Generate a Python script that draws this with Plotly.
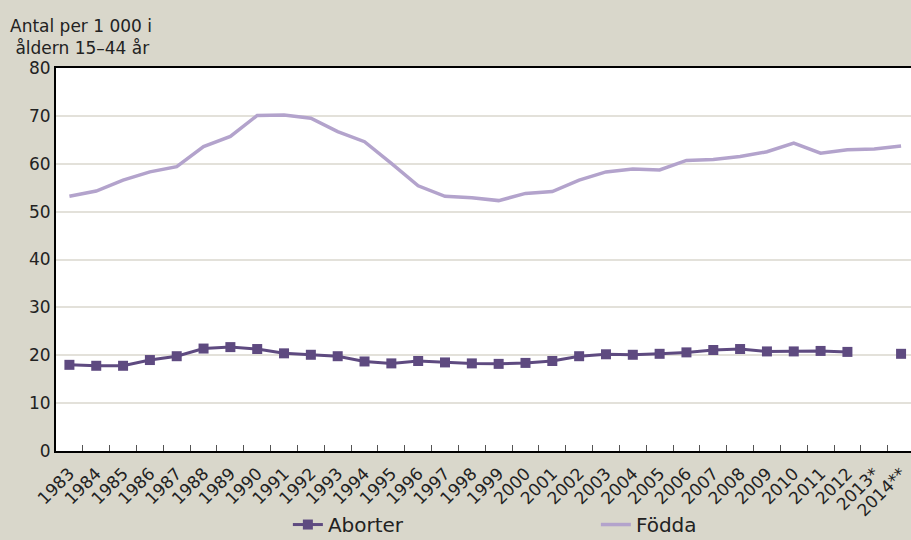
import plotly.graph_objects as go

years = ["1983", "1984", "1985", "1986", "1987", "1988", "1989", "1990", "1991", "1992",
         "1993", "1994", "1995", "1996", "1997", "1998", "1999", "2000", "2001", "2002",
         "2003", "2004", "2005", "2006", "2007", "2008", "2009", "2010", "2011", "2012",
         "2013*", "2014**"]

aborter = [18.0, 17.8, 17.8, 19.0, 19.8, 21.4, 21.7, 21.3, 20.4, 20.1,
           19.8, 18.7, 18.3, 18.8, 18.5, 18.3, 18.2, 18.4, 18.8, 19.8,
           20.2, 20.1, 20.3, 20.6, 21.1, 21.3, 20.8, 20.8, 20.9, 20.7,
           None, 20.3]

fodda = [53.2, 54.3, 56.6, 58.3, 59.4, 63.6, 65.7, 70.1, 70.2, 69.5,
         66.7, 64.6, 60.1, 55.4, 53.2, 52.9, 52.3, 53.8, 54.2, 56.6,
         58.3, 58.9, 58.7, 60.7, 60.9, 61.5, 62.5, 64.3, 62.2, 62.9,
         63.1, 63.7]

yticks = [0, 10, 20, 30, 40, 50, 60, 70, 80]

FONT = "DejaVu Sans"
BG = "#D9D7CB"

fig = go.Figure()
fig.add_trace(go.Scatter(
    x=years, y=aborter, name="Aborter", mode="lines+markers",
    line=dict(color="#5E4A80", width=3),
    marker=dict(symbol="square", size=10, color="#5E4A80"),
    connectgaps=False,
))
fig.add_trace(go.Scatter(
    x=years, y=fodda, name="Födda", mode="lines",
    line=dict(color="#B3A3CC", width=3.5),
))

fig.update_layout(
    width=911, height=540,
    margin=dict(l=56, r=0, t=68, b=89, autoexpand=False),
    paper_bgcolor=BG, plot_bgcolor="white",
    font=dict(family=FONT, size=16, color="#222222"),
    showlegend=True,
    legend=dict(
        orientation="h", xref="container", yref="paper",
        x=0.316, y=-0.192, xanchor="left", yanchor="middle",
        entrywidth=263, entrywidthmode="pixels",
        font=dict(size=20, color="#222222"),
        bgcolor="rgba(0,0,0,0)",
    ),
    annotations=[
        dict(text="Antal per 1 000 i<br> åldern 15–44 år", xref="paper", yref="paper",
             x=-0.056, y=1.0, xanchor="left", yanchor="bottom", yshift=8,
             showarrow=False, align="left", font=dict(size=17, color="#222222")),
    ],
)

fig.update_xaxes(
    type="category", categoryorder="array", categoryarray=years,
    range=[-0.5, 31.37], automargin=False,
    tickangle=-45, tickfont=dict(size=17), ticklabelstandoff=4,
    ticks="inside", tickson="boundaries", ticklen=6, tickcolor="#555555",
    showline=True, linecolor="black", linewidth=2, mirror=True,
    showgrid=False,
)
fig.update_yaxes(
    range=[0, 80], tickvals=yticks, tickfont=dict(size=17), automargin=False,
    showline=True, linecolor="black", linewidth=2,
    showgrid=True, gridcolor="#E3E1DA", gridwidth=1.5,
    ticks="", zeroline=False,
)

fig.write_html(
    "out.html",
    config={"displayModeBar": False},
    post_script="document.body.style.margin='0';document.body.style.overflow='hidden';",
)
